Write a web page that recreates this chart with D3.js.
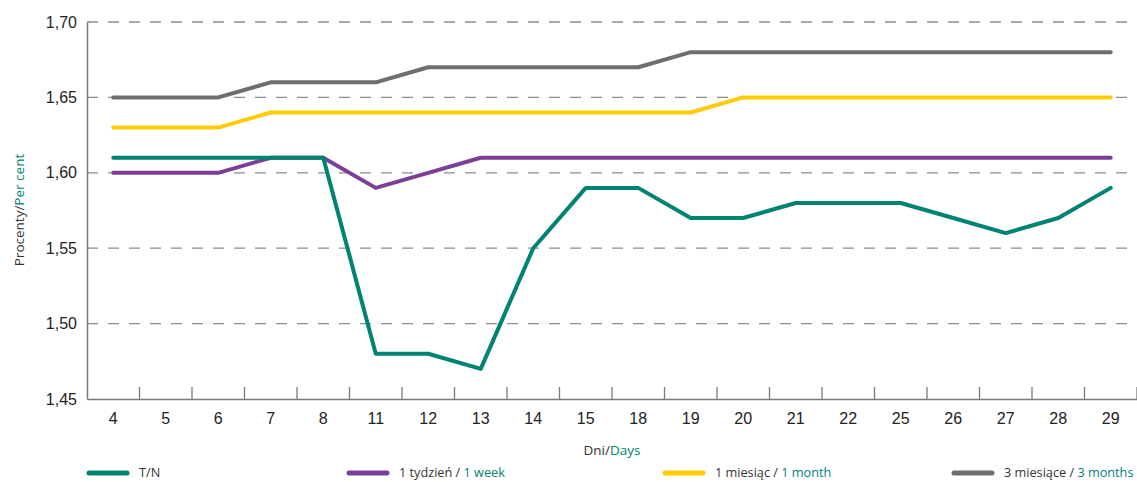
<!DOCTYPE html>
<html>
<head>
<meta charset="utf-8">
<script src="https://cdn.jsdelivr.net/npm/d3@7"></script>
<style>
  body { margin: 0; background: #fff; }
  .tick text { font-family: "Liberation Sans Narrow", "Arial Narrow", "Liberation Sans", sans-serif; fill: #222; }
  .lbl { font-family: "Open Sans", "Noto Sans", sans-serif; }
</style>
</head>
<body>
<script>
var days = ['4', '5', '6', '7', '8', '11', '12', '13', '14', '15', '18', '19', '20', '21', '22', '25', '26', '27', '28', '29'];
var tn = [1.61, 1.61, 1.61, 1.61, 1.61, 1.48, 1.48, 1.47, 1.55, 1.59, 1.59, 1.57, 1.57, 1.58, 1.58, 1.58, 1.57, 1.56, 1.57, 1.59];
var week1 = [1.60, 1.60, 1.60, 1.61, 1.61, 1.59, 1.60, 1.61, 1.61, 1.61, 1.61, 1.61, 1.61, 1.61, 1.61, 1.61, 1.61, 1.61, 1.61, 1.61];
var month1 = [1.63, 1.63, 1.63, 1.64, 1.64, 1.64, 1.64, 1.64, 1.64, 1.64, 1.64, 1.64, 1.65, 1.65, 1.65, 1.65, 1.65, 1.65, 1.65, 1.65];
var month3 = [1.65, 1.65, 1.65, 1.66, 1.66, 1.66, 1.67, 1.67, 1.67, 1.67, 1.67, 1.68, 1.68, 1.68, 1.68, 1.68, 1.68, 1.68, 1.68, 1.68];
var yTicks = [1.45, 1.50, 1.55, 1.60, 1.65, 1.70];

var teal = '#008373';
var series = [
  { pl: 'T/N', en: '', values: tn, color: teal, lx: 87 },
  { pl: '1 tydzień / ', en: '1 week', values: week1, color: '#7c3f98', lx: 347 },
  { pl: '1 miesiąc / ', en: '1 month', values: month1, color: '#ffcb05', lx: 663 },
  { pl: '3 miesiące / ', en: '3 months', values: month3, color: '#6d6e71', lx: 952 }
];
// kolejność rysowania: szary, żółty, fioletowy, morski na wierzchu
var drawOrder = [3, 2, 1, 0];

var W = 1137, H = 482;
var mLeft = 87, mRight = 1137, mTop = 22, mBottom = 399;

var svg = d3.select('body').append('svg').attr('width', W).attr('height', H);

var x = d3.scaleBand().domain(days).range([mLeft, mRight]).padding(0);
var y = d3.scaleLinear().domain([1.45, 1.70]).range([mBottom, mTop]);

// siatka pozioma
svg.append('g').selectAll('line').data(yTicks.slice(1)).enter().append('line')
  .attr('x1', mLeft).attr('x2', mRight)
  .attr('y1', d => y(d)).attr('y2', d => y(d))
  .attr('stroke', '#8c8c8c').attr('stroke-width', 1.3)
  .attr('stroke-dasharray', '11,10');

// oś Y
var yAxis = d3.axisLeft(y).tickValues(yTicks).tickSize(0).tickPadding(10)
  .tickFormat(d => d3.format('.2f')(d).replace('.', ','));
var gy = svg.append('g').attr('transform', 'translate(' + mLeft + ',0)').call(yAxis);
gy.select('.domain').attr('stroke', '#7a7a7a').attr('stroke-width', 1.5);
gy.selectAll('.tick text').attr('font-size', 16);

// oś X
var xAxis = d3.axisBottom(x).tickSize(0).tickPadding(14);
var gx = svg.append('g').attr('transform', 'translate(0,' + mBottom + ')').call(xAxis);
gx.select('.domain').attr('stroke', '#7a7a7a').attr('stroke-width', 1.5);
gx.selectAll('.tick text').attr('font-size', 16);

// znaczniki między kategoriami
var bounds = days.slice(1).map(d => x(d)).concat([mRight]);
svg.append('g').selectAll('line').data(bounds).enter().append('line')
  .attr('x1', d => d).attr('x2', d => d)
  .attr('y1', mBottom).attr('y2', mBottom - 12)
  .attr('stroke', '#7a7a7a').attr('stroke-width', 1.3);

// linie
var line = d3.line()
  .x((d, i) => x(days[i]) + x.bandwidth() / 2)
  .y(d => y(d));
svg.append('g').selectAll('path').data(drawOrder.map(i => series[i])).enter().append('path')
  .attr('d', d => line(d.values))
  .attr('fill', 'none')
  .attr('stroke', d => d.color)
  .attr('stroke-width', 4)
  .attr('stroke-linejoin', 'round')
  .attr('stroke-linecap', 'round');

// tytuł osi Y
var yt = svg.append('text').attr('class', 'lbl')
  .attr('transform', 'translate(24,210) rotate(-90)')
  .attr('text-anchor', 'middle').attr('font-size', 13.5).attr('fill', '#333');
yt.append('tspan').text('Procenty/');
yt.append('tspan').attr('fill', teal).text('Per cent');

// tytuł osi X
var xt = svg.append('text').attr('class', 'lbl')
  .attr('x', 612).attr('y', 455)
  .attr('text-anchor', 'middle').attr('font-size', 13.5).attr('fill', '#333');
xt.append('tspan').text('Dni/');
xt.append('tspan').attr('fill', teal).text('Days');

// legenda
var leg = svg.append('g').selectAll('g').data(series).enter().append('g')
  .attr('transform', d => 'translate(' + d.lx + ',473)');
leg.append('line')
  .attr('x1', 2).attr('x2', 40)
  .attr('stroke', d => d.color).attr('stroke-width', 5).attr('stroke-linecap', 'round');
var lt = leg.append('text').attr('class', 'lbl')
  .attr('x', 52).attr('y', 4)
  .attr('font-size', 12.7).attr('fill', '#333');
lt.append('tspan').text(d => d.pl);
lt.append('tspan').attr('fill', teal).text(d => d.en);
</script>
</body>
</html>
